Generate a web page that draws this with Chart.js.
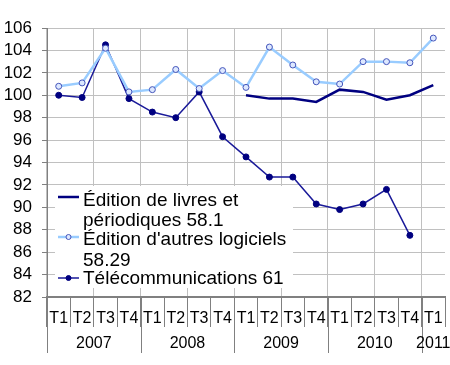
<!DOCTYPE html>
<html>
<head>
<meta charset="utf-8">
<script src="https://cdn.jsdelivr.net/npm/chart.js@4"></script>
<style>
html,body{margin:0;padding:0;background:#fff;}
#wrap{position:relative;width:450px;height:365px;}
</style>
</head>
<body>
<div id="wrap"><canvas id="c" width="450" height="365"></canvas></div>
<script>
const quarters = ["T1","T2","T3","T4","T1","T2","T3","T4","T1","T2","T3","T4","T1","T2","T3","T4","T1"];
const years = ["2007","2008","2009","2010","2011"];
const yearStart = [0,4,8,12,16];
const yearSpan = [4,4,4,4,1];
const livres = [null,null,null,null,null,null,null,null,100.0,99.7,99.7,99.4,100.5,100.3,99.6,100.0,100.9];
const logiciels = [100.8,101.1,104.2,100.3,100.5,102.3,100.6,102.2,100.7,104.3,102.7,101.2,101.0,103.0,103.0,102.9,105.1];
const telecom = [100.0,99.8,104.5,99.7,98.5,98.0,100.3,96.3,94.5,92.7,92.7,90.3,89.8,90.3,91.6,87.5,null];
const legendLabels = [["Édition de livres et","périodiques 58.1"],["Édition d'autres logiciels","58.29"],["Télécommunications 61"]];
const yTicks = {min:82, max:106, step:2};

const FONT = "'Liberation Sans', Arial, sans-serif";

const extras = {
  id:'extras',
  afterDatasetsDraw(chart){
    const ctx = chart.ctx, x = chart.scales.x, a = chart.chartArea;
    const n = quarters.length;
    const bw = (a.right - a.left) / n;
    ctx.save();
    ctx.strokeStyle = '#808080'; ctx.lineWidth = 1;
    ctx.fillStyle = '#000';
    ctx.font = "16px " + FONT;
    ctx.textAlign = 'center'; ctx.textBaseline = 'middle';
    years.forEach((y,i)=>{
      const s = x.getPixelForValue(yearStart[i]) - bw/2;
      const e = x.getPixelForValue(yearStart[i] + yearSpan[i] - 1) + bw/2;
      const px = Math.round(s) + 0.5;
      ctx.beginPath(); ctx.moveTo(px, a.bottom); ctx.lineTo(px, a.bottom + 56); ctx.stroke();
      ctx.fillText(y, (s+e)/2, a.bottom + 47);
    });
    const lx = 55, ly = 186, lw = 238, lh = 102;
    ctx.fillStyle = '#fff';
    ctx.fillRect(lx, ly, lw, lh);
    ctx.font = "19px " + FONT;
    ctx.textAlign = 'left'; ctx.textBaseline = 'alphabetic';
    const baselines = [[206,226],[245,266],[284]];
    const sampleY = [197,237,278];
    chart.data.datasets.forEach((ds,i)=>{
      ctx.strokeStyle = ds.borderColor; ctx.lineWidth = ds.borderWidth;
      ctx.beginPath(); ctx.moveTo(58, sampleY[i]); ctx.lineTo(79, sampleY[i]); ctx.stroke();
      if (ds.pointRadius > 0){
        ctx.beginPath(); ctx.arc(68.5, sampleY[i], 2.5, 0, Math.PI*2);
        ctx.fillStyle = ds.pointBackgroundColor; ctx.fill();
        ctx.strokeStyle = ds.pointBorderColor; ctx.lineWidth = 1; ctx.stroke();
      }
      ctx.fillStyle = '#000';
      legendLabels[i].forEach((t,j)=> ctx.fillText(t, 83, baselines[i][j]));
    });
    ctx.restore();
  }
};

new Chart(document.getElementById('c'), {
  type:'line',
  data:{
    labels: quarters,
    datasets:[
      {label:legendLabels[0].join(' '), data:livres, borderColor:'#000080', borderWidth:2.5, pointRadius:0, tension:0, spanGaps:false},
      {label:legendLabels[1].join(' '), data:logiciels, borderColor:'#99ccff', borderWidth:2.5, pointRadius:3, pointBackgroundColor:'#dde8ff', pointBorderColor:'#4455bb', pointBorderWidth:1, tension:0},
      {label:legendLabels[2].join(' '), data:telecom, borderColor:'#1a1a99', borderWidth:1.5, pointRadius:3, pointBackgroundColor:'#000080', pointBorderColor:'#000080', pointBorderWidth:1, tension:0}
    ]
  },
  options:{
    responsive:false, animation:false, devicePixelRatio:1,
    layout:{padding:{top:28, right:3, left:0, bottom:0}},
    plugins:{legend:{display:false}, tooltip:{enabled:false}},
    scales:{
      x:{
        offset:true,
        grid:{offset:true, color:(c)=> (c.index % 2 === 0 || c.index === quarters.length) ? '#c0c0c0' : 'rgba(0,0,0,0)', tickColor:'#808080', tickLength:30, lineWidth:1},
        border:{color:'#808080', width:2},
        ticks:{color:'#000', font:{family:FONT, size:16}, padding:-18, maxRotation:0, autoSkip:false},
        afterFit(s){ s.height = 68; }
      },
      y:{
        min:yTicks.min, max:yTicks.max,
        grid:{color:'#c0c0c0', tickColor:'#808080', tickLength:5},
        border:{color:'#808080', width:1},
        ticks:{stepSize:yTicks.step, autoSkip:false, color:'#000', font:{family:FONT, size:17}, padding:10},
        afterFit(s){ s.width = 47; }
      }
    }
  },
  plugins:[extras]
});
</script>
</body>
</html>
